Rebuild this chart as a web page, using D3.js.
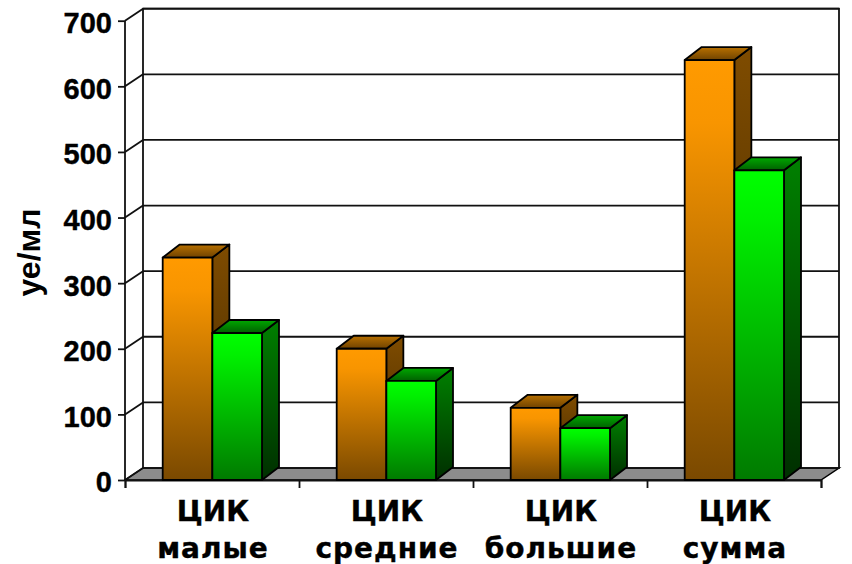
<!DOCTYPE html>
<html><head><meta charset="utf-8">
<script src="https://cdnjs.cloudflare.com/ajax/libs/d3/7.8.5/d3.min.js"></script>
<style>
html,body{margin:0;padding:0;background:#fff}
svg{display:block}
.tick-label{font:bold 29px "Liberation Sans",Arial,sans-serif;fill:#000;stroke:#000;stroke-width:.4px}
.cat{font:bold 28px "DejaVu Sans",Verdana,sans-serif;fill:#000;stroke:#000;stroke-width:.4px}
.cat2{letter-spacing:1px}
.title{font:bold 32px "Liberation Sans",Arial,sans-serif;fill:#000}
</style></head><body>
<svg id="chart" width="852" height="564"></svg>
<script>
// Circulating immune complexes by size class
const categories = ["малые", "средние", "большие", "сумма"];
const categoryPrefix = "ЦИК";
const orangeValues = [339, 200, 110, 640];
const greenValues = [224, 151, 79, 472];
const yTicks = [0, 100, 200, 300, 400, 500, 600, 700];
const yTitle = "уе/мл";

const svg = d3.select("#chart");
const depthX = 18, depthY = -12;
const x = d3.scaleBand().domain(categories).range([125, 821]);
const y = d3.scaleLinear().domain([0, 700]).range([480, 20.7]);
const series = d3.scaleBand().domain(["orange", "green"]).range([37.7, 137]);
const barDepthX = 17, barDepthY = -13;

const defs = svg.append("defs");
function gradient(id, stops) {
  const g = defs.append("linearGradient").attr("id", id)
    .attr("x1", 0).attr("y1", 0).attr("x2", 0).attr("y2", 1);
  stops.forEach(([o, c]) => g.append("stop").attr("offset", o).attr("stop-color", c));
}
gradient("orangeFront", [[0, "#ff9a00"], [0.15, "#f89500"], [1, "#7a4900"]]);
gradient("orangeSide", [[0, "#7f4c00"], [1, "#3d2500"]]);
gradient("orangeTop", [[0, "#b87000"], [1, "#704300"]]);
gradient("greenFront", [[0, "#00ff00"], [0.15, "#00f000"], [1, "#007a00"]]);
gradient("greenSide", [[0, "#008000"], [1, "#002f00"]]);
gradient("greenTop", [[0, "#00a800"], [1, "#006000"]]);

const y0 = y(0), xL = x.range()[0], xR = x.range()[1];
const pts = a => a.map(p => p.join(",")).join(" ");

// Floor
svg.append("polygon")
  .attr("points", pts([[xL, y0], [xL + depthX, y0 + depthY], [xR + depthX, y0 + depthY], [xR, y0]]))
  .attr("fill", "#8c8c8c").attr("stroke", "#000").attr("stroke-width", 1.5);

// Back wall, grid lines and their diagonals on the side wall
const wall = svg.append("g").attr("fill", "none").attr("stroke", "#111").attr("stroke-width", 1.8);
wall.append("rect")
  .attr("x", xL + depthX).attr("y", y(700) + depthY)
  .attr("width", xR - xL).attr("height", y0 - y(700));
wall.append("line").attr("x1", xL).attr("x2", xL).attr("y1", y(700)).attr("y2", y0);
wall.selectAll(".grid").data(yTicks.filter(d => d > 0)).join("line").attr("class", "grid")
  .attr("x1", xL + depthX).attr("x2", xR + depthX)
  .attr("y1", d => y(d) + depthY).attr("y2", d => y(d) + depthY);
wall.selectAll(".diag").data(yTicks).join("line").attr("class", "diag")
  .attr("x1", xL).attr("x2", xL + depthX)
  .attr("y1", d => y(d)).attr("y2", d => y(d) + depthY);

// Value axis
const yAxis = d3.axisLeft(y).tickValues(yTicks).tickSize(7).tickPadding(6);
const yG = svg.append("g").attr("transform", `translate(${xL},0)`).call(yAxis);
yG.select(".domain").remove();
yG.selectAll("line").attr("stroke", "#111").attr("stroke-width", 1.8);
yG.selectAll("text").attr("class", "tick-label").attr("dy", ".41em");

// Category separators along the front edge of the floor
const edge = d3.scaleLinear().domain([0, categories.length]).range([xL, xR]);
const xAxis = d3.axisBottom(edge).ticks(categories.length).tickSize(8).tickFormat("");
const xG = svg.append("g").attr("transform", `translate(0,${y0})`).call(xAxis);
xG.select(".domain").attr("stroke", "#111").attr("stroke-width", 1.8);
xG.selectAll("line").attr("stroke", "#111").attr("stroke-width", 1.8);

// 3D columns
const rows = [["orange", orangeValues], ["green", greenValues]];
rows.forEach(([name, values]) => {
  const g = svg.append("g").attr("stroke", "#000").attr("stroke-width", 1.8).attr("stroke-linejoin", "round");
  const bw = series.bandwidth();
  values.forEach((v, i) => {
    const l = x(categories[i]) + series(name), r = l + bw, t = y(v);
    g.append("polygon").attr("fill", `url(#${name}Side)`)
      .attr("points", pts([[r, t], [r + barDepthX, t + barDepthY], [r + barDepthX, y0 + barDepthY], [r, y0]]));
    g.append("polygon").attr("fill", `url(#${name}Top)`)
      .attr("points", pts([[l, t], [l + barDepthX, t + barDepthY], [r + barDepthX, t + barDepthY], [r, t]]));
    g.append("rect").attr("fill", `url(#${name}Front)`)
      .attr("x", l).attr("y", t).attr("width", bw).attr("height", y0 - t);
  });
});

// Two-line category labels
const labels = svg.append("g").attr("text-anchor", "middle");
categories.forEach(c => {
  const cx = x(c) + x.bandwidth() / 2 + 1;
  labels.append("text").attr("class", "cat").attr("x", cx).attr("y", 521).text(categoryPrefix);
  labels.append("text").attr("class", "cat cat2").attr("x", cx).attr("y", 558).text(c);
});

// Rotated axis title
svg.append("text").attr("class", "title").attr("text-anchor", "middle")
  .attr("transform", "translate(39.5,252.5) rotate(-90)").text(yTitle);
</script>
</body></html>
